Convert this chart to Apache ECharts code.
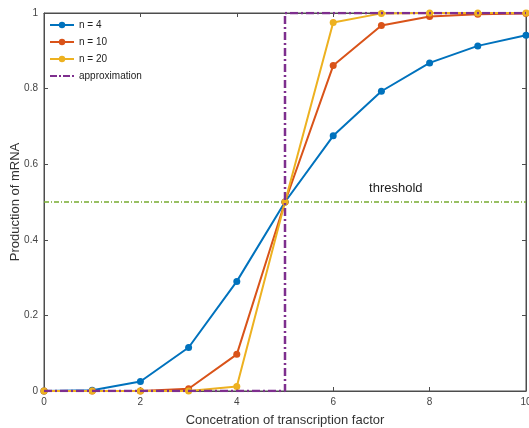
<!DOCTYPE html>
<html>
<head>
<meta charset="utf-8">
<script src="https://cdn.jsdelivr.net/npm/echarts@6/dist/echarts.min.js"></script>
<style>
  html, body { margin: 0; padding: 0; background: #fff; }
  #chart { width: 529px; height: 428px; }
</style>
</head>
<body>
<div id="chart"></div>
<script>
  // concentration of transcription factor
  var xs = [0, 1, 2, 3, 4, 5, 6, 7, 8, 9, 10];
  // production of mRNA
  var n4 = [0, 0.002, 0.025, 0.115, 0.29, 0.5, 0.675, 0.793, 0.868, 0.913, 0.941];
  var n10 = [0, 0, 0, 0.006, 0.097, 0.5, 0.861, 0.967, 0.991, 0.997, 0.999];
  var n20 = [0, 0, 0, 0, 0.012, 0.5, 0.975, 0.999, 1, 1, 1];
  // step approximation
  var approxX = [0, 5, 5, 10];
  var approxY = [0, 0, 1, 1];
  var thresholdY = 0.5;
  var thresholdLabel = { x: 7.3, y: 0.535, text: 'threshold' };
  var seriesNames = ['n = 4', 'n = 10', 'n = 20', 'approximation'];
  var colors = ['#0072bd', '#d95319', '#edb120', '#7e2f8e'];

  function pairs(xv, yv) {
    return xv.map(function(x, i) { return [x, yv[i]]; });
  }

  var font = 'Liberation Sans, Arial, sans-serif';
  var axisColor = '#4d4d4d';

  var chart = echarts.init(document.getElementById('chart'), null, { renderer: 'canvas' });

  var curve = function(name, data, color) {
    return {
      name: name,
      type: 'line',
      data: pairs(xs, data),
      symbol: 'circle',
      symbolSize: 7,
      lineStyle: { color: color, width: 2 },
      itemStyle: { color: color },
      xAxisIndex: 0, yAxisIndex: 0,
      z: 3
    };
  };

  var tickAxis = function(extra) {
    return Object.assign({
      type: 'value',
      axisLine: { show: true, onZero: false, lineStyle: { color: axisColor } },
      axisTick: { show: true, inside: true, length: 4, lineStyle: { color: axisColor } },
      axisLabel: { show: false },
      splitLine: { show: false }
    }, extra);
  };

  chart.setOption({
    animation: false,
    color: colors,
    grid: {
      left: 44, right: 3, top: 13, bottom: 37,
      outerBoundsMode: 'none', containLabel: false,
      show: true, borderColor: axisColor, borderWidth: 1, backgroundColor: 'transparent'
    },
    legend: {
      data: [
        { name: seriesNames[0] },
        { name: seriesNames[1] },
        { name: seriesNames[2] },
        { name: seriesNames[3], icon: 'path://M0,0h7v2H0z M9,0h2v2H9z M13,0h7v2h-7z M22,0h2v2h-2z' }
      ],
      orient: 'vertical',
      left: 47,
      top: 18,
      itemWidth: 24,
      itemHeight: 8,
      itemGap: 7,
      padding: 2,
      textStyle: { fontFamily: font, fontSize: 10, color: '#222' }
    },
    xAxis: [
      tickAxis({
        min: 0, max: 10, interval: 2,
        name: 'Concetration of transcription factor',
        nameLocation: 'middle',
        nameGap: 23,
        nameMoveOverlap: false,
        nameTextStyle: { fontFamily: font, fontSize: 13, color: '#333' },
        axisLabel: { show: true, fontFamily: font, fontSize: 10, color: '#444', margin: 6 }
      }),
      tickAxis({ position: 'top', min: 0, max: 10, interval: 2 })
    ],
    yAxis: [
      tickAxis({
        min: 0, max: 1, interval: 0.2,
        name: 'Production of mRNA',
        nameLocation: 'middle',
        nameGap: 22,
        nameMoveOverlap: false,
        nameTextStyle: { fontFamily: font, fontSize: 13, color: '#333' },
        axisLabel: { show: true, fontFamily: font, fontSize: 10, color: '#444', margin: 6 }
      }),
      tickAxis({ position: 'right', min: 0, max: 1, interval: 0.2 })
    ],
    series: [
      {
        name: 'threshold',
        type: 'line',
        data: [[0, thresholdY], [10, thresholdY]],
        symbol: 'none',
        lineStyle: { color: '#77ac30', width: 1.5, type: [5, 2, 1, 2] },
        markPoint: {
          symbol: 'rect', symbolSize: 0,
          data: [{ coord: [thresholdLabel.x, thresholdLabel.y] }],
          label: {
            show: true,
            formatter: thresholdLabel.text,
            fontFamily: font, fontSize: 13, color: '#222'
          }
        },
        z: 1
      },
      curve(seriesNames[0], n4, colors[0]),
      curve(seriesNames[1], n10, colors[1]),
      curve(seriesNames[2], n20, colors[2]),
      {
        name: seriesNames[3],
        type: 'line',
        data: pairs(approxX, approxY),
        symbol: 'none',
        lineStyle: { color: colors[3], width: 2.5, type: [8, 3, 2, 3] },
        itemStyle: { color: colors[3] },
        z: 4
      },
      // keep the mirrored axes alive
      { type: 'line', data: [], xAxisIndex: 1, yAxisIndex: 1 }
    ]
  });
</script>
</body>
</html>
